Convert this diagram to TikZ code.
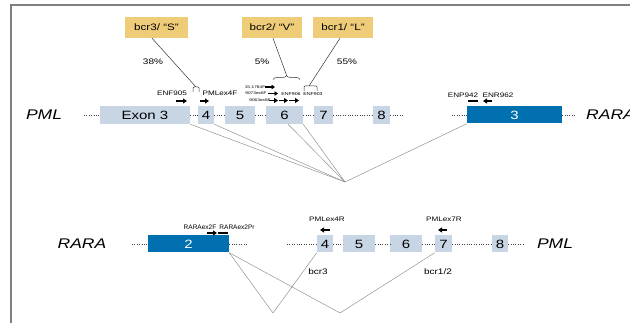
\documentclass[tikz,border=0pt]{standalone}
\usepackage{fontspec}
\setmainfont{Liberation Sans}
\usetikzlibrary{arrows.meta,decorations.pathreplacing}
\definecolor{exlight}{RGB}{199,213,229}
\definecolor{exdark}{RGB}{0,112,176}
\definecolor{bcryel}{RGB}{238,204,120}
\definecolor{framegray}{RGB}{128,128,128}
\newcommand{\wx}[1]{\scalebox{1.25}[1]{#1}}
\begin{document}
\begin{tikzpicture}[x=1pt,y=-1pt,
  exon/.style={fill=exlight, minimum height=18pt, inner sep=0pt, font=\fontsize{12}{12}\selectfont},
  rexon/.style={fill=exdark, text=white, minimum height=17pt, inner sep=0pt, font=\fontsize{12}{12}\selectfont},
  gene/.style={inner sep=0pt, font=\fontsize{14}{14}\selectfont\itshape},
  bcrbox/.style={fill=bcryel, minimum width=60pt, minimum height=21pt, inner sep=0pt, font=\fontsize{9.3}{9.3}\selectfont},
  lbl/.style={inner sep=0pt, font=\fontsize{6.5}{6.5}\selectfont},
  tinylbl/.style={inner sep=0pt, font=\fontsize{3.8}{3.8}\selectfont},
  smalllbl/.style={inner sep=0pt, font=\fontsize{4.2}{4.2}\selectfont},
  pct/.style={inner sep=0pt, font=\fontsize{8}{8}\selectfont},
  dotline/.style={line width=0.9pt, dash pattern=on 0.9pt off 1.5pt, black!75},
  junction/.style={black!45, line width=0.45pt},
  primer/.style={line width=1.6pt, -{Triangle[length=4pt,width=5pt]}},
  tinyprimer/.style={line width=1.2pt, -{Triangle[length=3.5pt,width=4.5pt]}},
  probe/.style={line width=2.8pt},
  lead/.style={black!80, line width=0.5pt}
]
\useasboundingbox (0,0) rectangle (630,323);
\fill[white] (0,0) rectangle (630,323);
% frame
\draw[framegray, line width=1.5pt] (11,323) -- (11,5) -- (630,5);

% ---------- top row ----------
\node[gene] (pmlT) at (44,115) {\wx{PML}};
\coordinate (d0) at (84,115);
\node[exon, minimum width=90pt] (e3) at (145,115) {\wx{Exon 3}};
\node[exon, minimum width=16pt] (e4) at (206,115) {\wx{4}};
\node[exon, minimum width=30pt] (e5) at (240,115) {\wx{5}};
\node[exon, minimum width=37pt] (e6) at (284.5,115) {\wx{6}};
\node[exon, minimum width=19pt] (e7) at (323.5,115) {\wx{7}};
\node[exon, minimum width=17pt] (e8) at (381.5,115) {\wx{8}};
\coordinate (d1) at (403,115);
\coordinate (d2) at (452,115);
\node[rexon, minimum width=95pt] (r3) at (514.5,115) {\wx{3}};
\coordinate (d3) at (575,115);
\node[gene, anchor=west] (raraT) at (586,115) {\wx{RARA}};

\draw[dotline] (d0) -- (e3.west);
\draw[dotline] (e3.east) -- (e4.west);
\draw[dotline] (e4.east) -- (e5.west);
\draw[dotline] (e5.east) -- (e6.west);
\draw[dotline] (e6.east) -- (e7.west);
\draw[dotline] (e7.east) -- (e8.west);
\draw[dotline] (e8.east) -- (d1);
\draw[dotline] (d2) -- (r3.west);
\draw[dotline] (r3.east) -- (d3);

% junctions to breakpoint
\coordinate (jT) at (345,182);
\draw[junction] (e3.south east) -- (jT);
\draw[junction] (e4.south east) -- (jT);
\draw[junction] ([xshift=3.5pt]e6.south) -- (jT);
\draw[junction] (e6.south east) -- (jT);
\draw[junction] (r3.south west) -- (jT);

% bcr boxes
\node[bcrbox, minimum width=63pt] (bcr3) at (156.5,27.5) {\wx{bcr3/ “S”}};
\node[bcrbox] (bcr2) at (272,27.5) {\wx{bcr2/ “V”}};
\node[bcrbox] (bcr1) at (343,27.5) {\wx{bcr1/ “L”}};
\node[pct] (p38) at (153,62) {\wx{38\%}};
\node[pct] (p5) at (262,62) {\wx{5\%}};
\node[pct] (p55) at (347,62) {\wx{55\%}};

% brackets and lead lines
\coordinate (k3) at (196,87);
\draw[lead, rounded corners=1pt] (k3) ++(-3,5) -- ++(0,-5) -- ++(6,0) -- ++(0,5);
\draw[lead] ([xshift=-4.5pt]bcr3.south) -- (k3);
\coordinate (k2) at (286.5,75);
\draw[lead, decorate, decoration={brace, amplitude=4pt}] (273,79.5) -- (300,79.5);
\draw[lead] ([xshift=1pt]bcr2.south) -- (k2);
\coordinate (k1) at (309,86);
\draw[lead, rounded corners=1pt] (k1) ++(-5,5) -- ++(0,-5) -- ++(13,0) -- ++(0,5);
\draw[lead] ([xshift=-3pt]bcr1.south) -- (k1);

% primer labels top
\node[lbl] (enf905) at (172,93) {\wx{ENF905}};
\draw[primer] (176,101) -- (187,101);
\node[lbl] (pmlex4f) at (220,93) {\wx{PMLex4F}};
\draw[primer] (200,101) -- (209,101);
\node[tinylbl] (p1784) at (255,87) {\wx{15-1784F}};
\draw[tinyprimer] (265,87) -- (275,87);
\node[tinylbl] (p9073) at (256,93.5) {\wx{9073ex6F}};
\draw[tinyprimer] (268,93.5) -- (278,93.5);
\node[tinylbl] (p9063) at (260,100.5) {\wx{9063ex6F}};
\draw[primer] (269,100.5) -- (278,100.5);
\draw[primer] (279,100.5) -- (288,100.5);
\draw[primer] (289,100.5) -- (299,100.5);
\node[smalllbl] (enf906) at (291,94.5) {\wx{ENF906}};
\node[smalllbl] (enf903) at (313,94.5) {\wx{ENF903}};

\node[lbl] (enp942) at (463,95) {\wx{ENP942}};
\node[lbl] (enr962) at (498,95) {\wx{ENR962}};
\draw[probe] (468,101) -- (478,101);
\draw[primer] (492,101) -- (483,101);

% ---------- bottom row ----------
\node[gene] (raraB) at (82,244) {\wx{RARA}};
\coordinate (f0) at (132,244);
\node[rexon, minimum width=81pt] (b2) at (188.5,244) {\wx{2}};
\coordinate (f1) at (248,244);
\coordinate (f2) at (287,244);
\node[exon, minimum width=16pt, minimum height=17pt] (b4) at (325,244) {\wx{4}};
\node[exon, minimum width=32pt, minimum height=17pt] (b5) at (359,244) {\wx{5}};
\node[exon, minimum width=32pt, minimum height=17pt] (b6) at (406,244) {\wx{6}};
\node[exon, minimum width=17pt, minimum height=17pt] (b7) at (443.5,244) {\wx{7}};
\node[exon, minimum width=16pt, minimum height=17pt] (b8) at (500,244) {\wx{8}};
\coordinate (f3) at (523,244);
\node[gene] (pmlB) at (555,244) {\wx{PML}};

\draw[dotline] (f0) -- (b2.west);
\draw[dotline] (b2.east) -- (f1);
\draw[dotline] (f2) -- (b4.west);
\draw[dotline] (b4.east) -- (b5.west);
\draw[dotline] (b5.east) -- (b6.west);
\draw[dotline] (b6.east) -- (b7.west);
\draw[dotline] (b7.east) -- (b8.west);
\draw[dotline] (b8.east) -- (f3);

\coordinate (jB1) at (273,313);
\coordinate (jB2) at (340,313);
\draw[junction] (b2.south east) -- (jB1);
\draw[junction] (b2.south east) -- (jB2);
\draw[junction] (b4.south west) -- (jB1);
\draw[junction] (b7.south west) -- (jB2);

\node[lbl] (rex2f) at (200,227) {RARAex2F};
\node[lbl] (rex2pr) at (237,227) {RARAex2Pr};
\draw[primer] (207,233) -- (217,233);
\draw[probe] (218,233) -- (228,233);
\node[lbl] (pmlex4r) at (327,219) {\wx{PMLex4R}};
\draw[primer] (330,230) -- (320,230);
\node[lbl] (pmlex7r) at (444,219) {\wx{PMLex7R}};
\draw[primer] (447,230) -- (438,230);
\node[pct] (bcr3lbl) at (318,272) {\wx{bcr3}};
\node[pct] (bcr12lbl) at (438,272) {\wx{bcr1/2}};
\end{tikzpicture}
\end{document}
